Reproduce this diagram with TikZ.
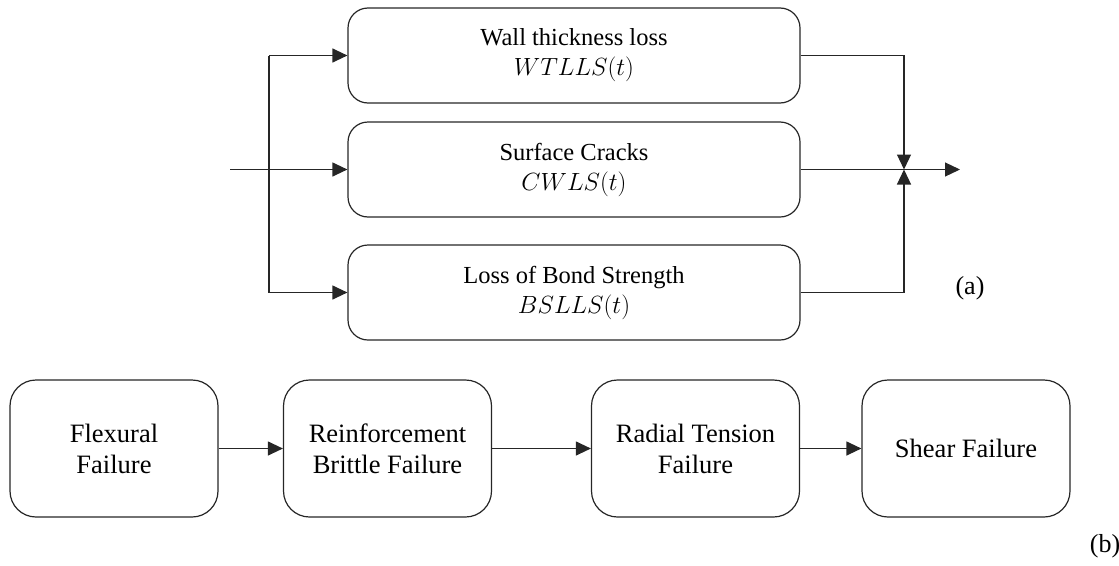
\documentclass[tikz,border=0pt]{standalone}
\usepackage{fontspec}
\setmainfont{Liberation Serif}
\usetikzlibrary{arrows.meta}
\begin{document}
\begin{tikzpicture}[x=1pt,y=-1pt,
  line width=1.2pt, draw=black!85,
  arr/.style={-{Triangle[length=15pt,width=14pt]}},
  topbox/.style={draw, rounded corners=20pt, minimum width=452pt, minimum height=95pt,
    align=center, inner sep=0pt, font=\fontsize{24.5}{30}\selectfont},
  botbox/.style={draw, rounded corners=26pt, minimum width=208pt, minimum height=137pt,
    align=center, inner sep=0pt, font=\fontsize{26.5}{31}\selectfont},
  tag/.style={inner sep=0pt, font=\fontsize{26}{30}\selectfont}]
\useasboundingbox (0,0) rectangle (1119,565);

% (a) parallel degradation modes
\node[topbox] (wt) at (574,55.5) {Wall thickness loss\\ $WTLLS(t)$};
\node[topbox] (cw) at (574,169.5) {Surface Cracks\\ $CWLS(t)$};
\node[topbox] (bs) at (574,292.5) {Loss of Bond Strength\\ $BSLLS(t)$};
\coordinate (in) at (230,169.5);
\coordinate (sp) at (269,169.5);
\coordinate (jn) at (904,169.5);
\coordinate (out) at (960,169.5);

\draw[arr] (in) -- (cw.west);
\draw (wt.west -| sp) -- (bs.west -| sp);
\draw[arr] (wt.west -| sp) -- (wt.west);
\draw[arr] (bs.west -| sp) -- (bs.west);
\draw[arr] (wt.east) -| (jn);
\draw[arr] (bs.east) -| (jn);
\draw[arr] (cw.east) -- (out);
\node[tag] (la) at (970,288) {(a)};

% (b) failure sequence
\node[botbox] (ff) at (114,448.5) {Flexural\\ Failure};
\node[botbox] (rb) at (387.5,448.5) {Reinforcement\\ Brittle Failure};
\node[botbox] (rt) at (695.5,448.5) {Radial Tension\\ Failure};
\node[botbox] (sf) at (966,448.5) {Shear Failure};
\draw[arr] (ff) -- (rb);
\draw[arr] (rb) -- (rt);
\draw[arr] (rt) -- (sf);
\node[tag] (lb) at (1105,546) {(b)};
\end{tikzpicture}
\end{document}
